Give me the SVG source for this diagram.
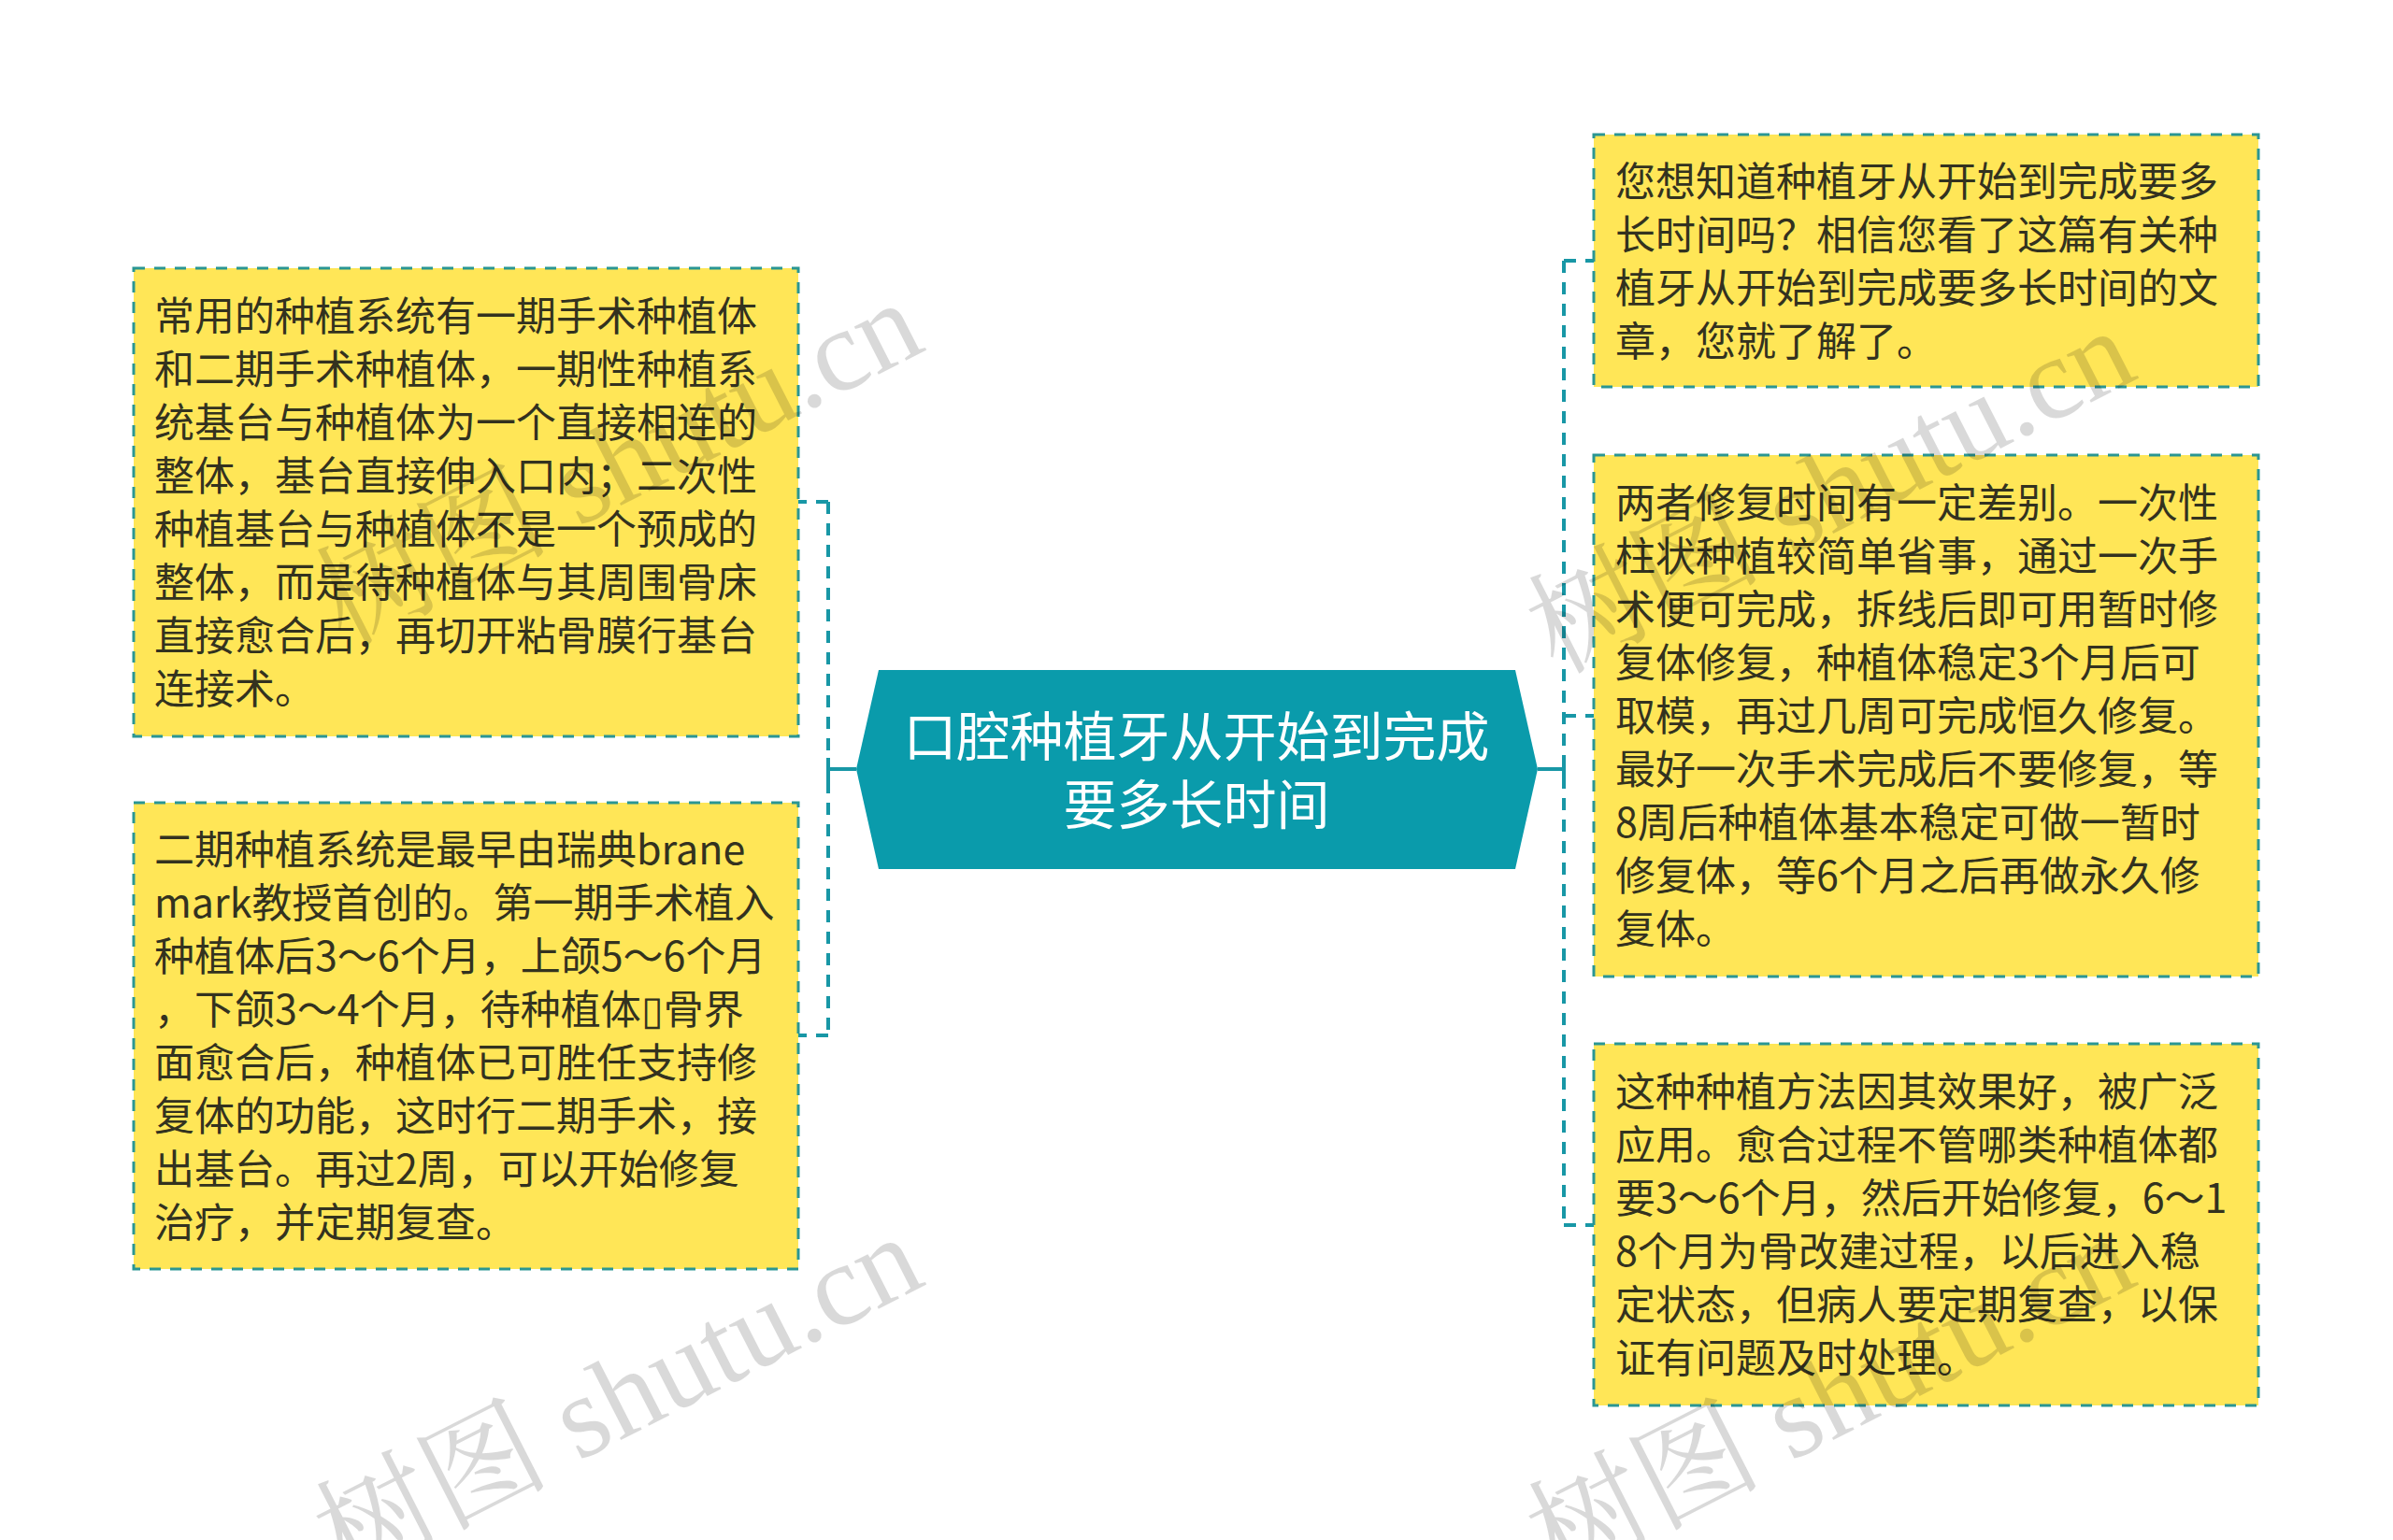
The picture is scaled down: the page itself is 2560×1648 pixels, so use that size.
<svg xmlns="http://www.w3.org/2000/svg" width="2560" height="1648" viewBox="0 0 2560 1648">
<style>
.box{fill:#FFE657;stroke:#2A9693;stroke-width:3;stroke-dasharray:12 10}
.t{font-family:"Noto Sans CJK SC","Noto Sans",sans-serif;font-size:43px;fill:#33321F}
.c{fill:none;stroke:#1897A6;stroke-width:4;stroke-dasharray:13 10}
.cs{fill:none;stroke:#1897A6;stroke-width:4}
.ct{font-family:"Noto Sans CJK SC","Noto Sans",sans-serif;font-size:57px;fill:#FFFFFF;text-anchor:middle}
.wm{font-family:"Liberation Serif","Noto Serif CJK SC","Noto Sans CJK SC",serif;font-size:125px;fill:#000;fill-opacity:0.15}
</style>
<rect width="2560" height="1648" fill="#FFFFFF"/>
<g id="connectors">
<path class="c" d="M886 537 V1108 M886 537 H854 M886 1108 H854"/>
<path class="cs" d="M916 823 H886 M886 811 V836"/>
<path class="c" d="M1673 279 V1311 M1673 279 H1705 M1673 766 H1705 M1673 1311 H1705"/>
<path class="cs" d="M1645 823 H1673 M1673 811 V836"/>
</g>
<g id="center">
<polygon points="916,823 940,717 1621,717 1645,823 1621,930 940,930" fill="#0A9BAB"/>
<text class="ct" x="1280" y="809">口腔种植牙从开始到完成</text>
<text class="ct" x="1280" y="882">要多长时间</text>
</g>
<g id="left1">
<rect class="box" x="143" y="287" width="711" height="501"/>
<text class="t"><tspan x="165" y="354">常用的种植系统有一期手术种植体</tspan><tspan x="165" y="411">和二期手术种植体，一期性种植系</tspan><tspan x="165" y="468">统基台与种植体为一个直接相连的</tspan><tspan x="165" y="525">整体，基台直接伸入口内；二次性</tspan><tspan x="165" y="582">种植基台与种植体不是一个预成的</tspan><tspan x="165" y="639">整体，而是待种植体与其周围骨床</tspan><tspan x="165" y="696">直接愈合后，再切开粘骨膜行基台</tspan><tspan x="165" y="753">连接术。</tspan></text>
</g>
<g id="left2">
<rect class="box" x="143" y="859" width="711" height="499"/>
<text class="t"><tspan x="165" y="925">二期种植系统是最早由瑞典brane</tspan><tspan x="165" y="982">mark教授首创的。第一期手术植入</tspan><tspan x="165" y="1039">种植体后3～6个月，上颌5～6个月</tspan><tspan x="165" y="1096">，下颌3～4个月，待种植体▯骨界</tspan><tspan x="165" y="1153">面愈合后，种植体已可胜任支持修</tspan><tspan x="165" y="1210">复体的功能，这时行二期手术，接</tspan><tspan x="165" y="1267">出基台。再过2周，可以开始修复</tspan><tspan x="165" y="1324">治疗，并定期复查。</tspan></text>
</g>
<g id="right1">
<rect class="box" x="1705" y="144" width="711" height="270"/>
<text class="t"><tspan x="1728" y="210">您想知道种植牙从开始到完成要多</tspan><tspan x="1728" y="267">长时间吗？相信您看了这篇有关种</tspan><tspan x="1728" y="324">植牙从开始到完成要多长时间的文</tspan><tspan x="1728" y="381">章，您就了解了。</tspan></text>
</g>
<g id="right2">
<rect class="box" x="1705" y="487" width="711" height="558"/>
<text class="t"><tspan x="1728" y="554">两者修复时间有一定差别。一次性</tspan><tspan x="1728" y="611">柱状种植较简单省事，通过一次手</tspan><tspan x="1728" y="668">术便可完成，拆线后即可用暂时修</tspan><tspan x="1728" y="725">复体修复，种植体稳定3个月后可</tspan><tspan x="1728" y="782">取模，再过几周可完成恒久修复。</tspan><tspan x="1728" y="839">最好一次手术完成后不要修复，等</tspan><tspan x="1728" y="896">8周后种植体基本稳定可做一暂时</tspan><tspan x="1728" y="953">修复体，等6个月之后再做永久修</tspan><tspan x="1728" y="1010">复体。</tspan></text>
</g>
<g id="right3">
<rect class="box" x="1705" y="1117" width="711" height="387"/>
<text class="t"><tspan x="1728" y="1184">这种种植方法因其效果好，被广泛</tspan><tspan x="1728" y="1241">应用。愈合过程不管哪类种植体都</tspan><tspan x="1728" y="1298">要3～6个月，然后开始修复，6～1</tspan><tspan x="1728" y="1355">8个月为骨改建过程，以后进入稳</tspan><tspan x="1728" y="1412">定状态，但病人要定期复查，以保</tspan><tspan x="1728" y="1469">证有问题及时处理。</tspan></text>
</g>
<g id="watermark">
<text class="wm" transform="translate(368 692) rotate(-27)">树图 shutu.cn</text>
<text class="wm" transform="translate(368 1692) rotate(-27)">树图 shutu.cn</text>
<text class="wm" transform="translate(1665 722) rotate(-27)">树图 shutu.cn</text>
<text class="wm" transform="translate(1665 1692) rotate(-27)">树图 shutu.cn</text>
</g>
</svg>
